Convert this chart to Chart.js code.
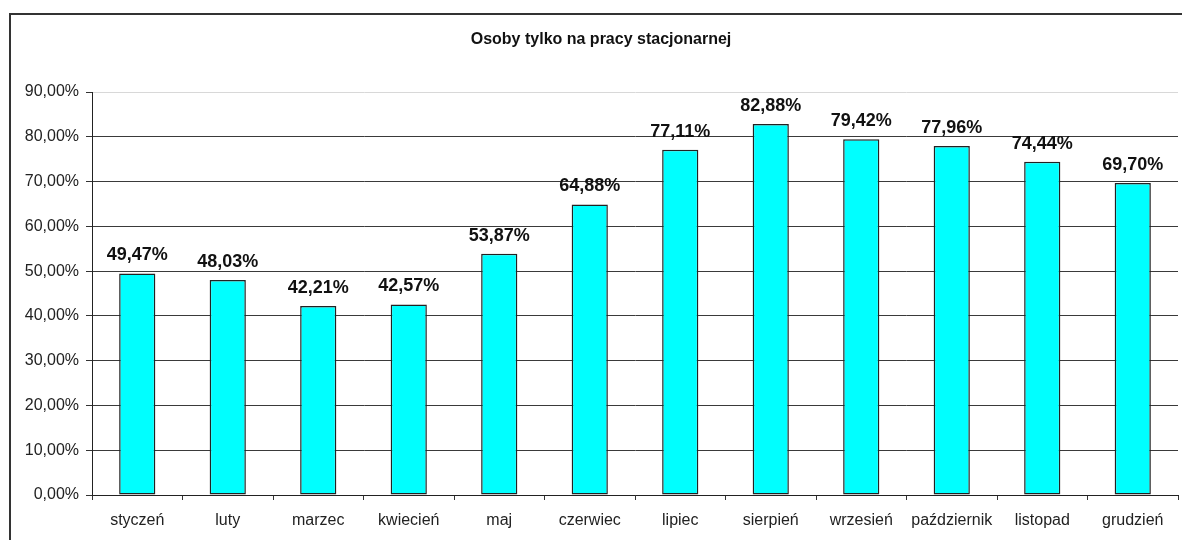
<!DOCTYPE html>
<html>
<head>
<meta charset="utf-8">
<script src="https://cdn.jsdelivr.net/npm/chart.js@4.4.1/dist/chart.umd.min.js"></script>
<style>
  html, body { margin: 0; padding: 0; background: #fff; }
  #wrap { position: relative; width: 1182px; height: 540px; overflow: hidden; }
</style>
</head>
<body>
<div id="wrap"><canvas id="chart" width="1182" height="540"></canvas></div>
<script>
// --- DATA ---
const months = ['styczeń', 'luty', 'marzec', 'kwiecień', 'maj', 'czerwiec', 'lipiec', 'sierpień', 'wrzesień', 'październik', 'listopad', 'grudzień'];
const shares = [49.47, 48.03, 42.21, 42.57, 53.87, 64.88, 77.11, 82.88, 79.42, 77.96, 74.44, 69.70];
const titleText = 'Osoby tylko na pracy stacjonarnej';

const fmtPct = v => v.toFixed(2).replace('.', ',') + '%';

// frame around the whole chart (right and bottom edges fall outside the picture)
const framePlugin = {
    id: 'frame',
    beforeDraw(chart) {
        const ctx = chart.ctx;
        ctx.save();
        ctx.strokeStyle = '#333';
        ctx.lineWidth = 2;
        ctx.strokeRect(10, 14, 1200, 600);
        ctx.restore();
    }
};

// value labels above the bars
const valueLabels = {
    id: 'valueLabels',
    afterDatasetsDraw(chart) {
        const ctx = chart.ctx;
        const meta = chart.getDatasetMeta(0);
        ctx.save();
        ctx.font = 'bold 18px "Liberation Sans", Arial, sans-serif';
        ctx.fillStyle = '#111';
        ctx.textAlign = 'center';
        ctx.textBaseline = 'alphabetic';
        meta.data.forEach((bar, i) => {
            ctx.fillText(fmtPct(shares[i]), bar.x, bar.y - 13);
        });
        ctx.restore();
    }
};

new Chart(document.getElementById('chart').getContext('2d'), {
    type: 'bar',
    data: {
        labels: months,
        datasets: [{
            data: shares,
            backgroundColor: '#00ffff',
            borderColor: '#222',
            borderWidth: 1.5,
            borderSkipped: false,
            barPercentage: 0.8,
            categoryPercentage: 0.5
        }]
    },
    options: {
        responsive: false,
        animation: false,
        layout: { padding: { left: 24, right: 4, top: 0, bottom: 0 } },
        plugins: {
            legend: { display: false },
            tooltip: { enabled: false },
            title: {
                display: true,
                text: titleText,
                color: '#111',
                font: { family: '"Liberation Sans", Arial, sans-serif', size: 16, weight: 'bold' },
                padding: { top: 30, bottom: 42.8 }
            }
        },
        scales: {
            x: {
                offset: true,
                grid: { offset: true, drawOnChartArea: false, drawTicks: true, tickLength: 5, tickColor: '#333' },
                border: { color: '#222', width: 1 },
                ticks: {
                    color: '#222',
                    padding: 11,
                    maxRotation: 0,
                    autoSkip: false,
                    font: { family: '"Liberation Sans", Arial, sans-serif', size: 16 }
                },
                afterFit(scale) { scale.height = 45; }
            },
            y: {
                min: 0,
                max: 90,
                grid: {
                    color: ctx => ctx.tick && ctx.tick.value === 90 ? '#d8d8d8' : '#3a3a3a',
                    tickColor: '#333',
                    tickLength: 6
                },
                border: { color: '#222', width: 1 },
                ticks: {
                    stepSize: 10,
                    color: '#222',
                    padding: 7,
                    callback: v => fmtPct(v),
                    font: { family: '"Liberation Sans", Arial, sans-serif', size: 16 }
                },
                afterFit(scale) { scale.width = 68; }
            }
        }
    },
    plugins: [framePlugin, valueLabels]
});
</script>
</body>
</html>
